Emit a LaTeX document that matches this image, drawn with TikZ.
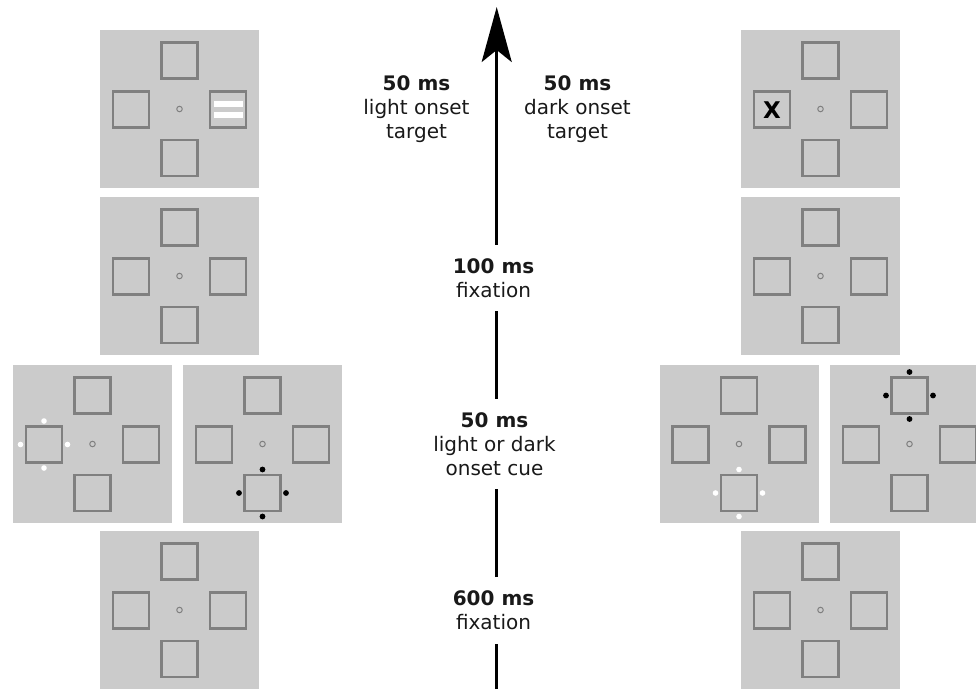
\documentclass[tikz,border=0pt]{standalone}
\usepackage{fontspec}
\setmainfont{DejaVu Sans}
\usetikzlibrary{arrows.meta}
\definecolor{panelgray}{HTML}{CBCBCB}
\definecolor{boxgray}{HTML}{808080}
\tikzset{
  panelbg/.style={fill=panelgray, draw=none, minimum width=159pt, minimum height=158pt, inner sep=0pt},
  box/.style={draw=boxgray, line width=2.3pt, minimum size=36pt, inner sep=0pt},
  fix/.style={circle, draw=boxgray, line width=1pt, minimum size=5.5pt, inner sep=0pt},
  wdot/.style={circle, fill=white, minimum size=5.6pt, inner sep=0pt},
  bdot/.style={circle, fill=black, minimum size=5.8pt, inner sep=0pt},
  bar/.style={fill=white, draw=none, minimum width=29pt, minimum height=5.5pt, inner sep=0pt},
  lab/.style={align=center, font=\fontsize{20}{24}\selectfont, inner xsep=0pt, inner ysep=13.5pt, text=black!90},
  axis/.style={line width=3pt, black},
  pics/display/.style={code={
    \node[panelbg] (-bg) at (0,0) {};
    \node[box] (-t) at (0,-48.5) {};
    \node[box] (-l) at (-48.5,0.5) {};
    \node[box] (-r) at (48.5,0.5) {};
    \node[box] (-b) at (0,49) {};
    \node[fix] (-f) at (0,0) {};
  }}
}
\begin{document}
\begin{tikzpicture}[x=1pt,y=-1pt]
\useasboundingbox (0,0) rectangle (976,689);
\clip (0,0) rectangle (976,689);
\fill[white] (0,0) rectangle (976,689);

% left column
\pic (A1) at (179.5,109) {display};
\pic (A2) at (179.5,276) {display};
\pic (A3) at (92.5,444) {display};
\pic (A4) at (262.5,444) {display};
\pic (A5) at (179.5,610) {display};
% right column
\pic (B1) at (820.5,109) {display};
\pic (B2) at (820.5,276) {display};
\pic (B3) at (739,444) {display};
\pic (B4) at (909.5,444) {display};
\pic (B5) at (820.5,610) {display};

% light onset target: two white bars
\node[bar] (barA) at ([yshift=5.4pt]A1-r.center) {};
\node[bar] (barB) at ([yshift=-5.4pt]A1-r.center) {};
% dark onset target: X
\node[font=\bfseries\fontsize{23}{23}\selectfont, inner sep=0pt] (xt) at ([yshift=-1pt]B1-l.center) {X};

% light cue around left square (A3)
\node[wdot] (a3n) at ([yshift=23.5pt]A3-l.center) {};
\node[wdot] (a3s) at ([yshift=-23.5pt]A3-l.center) {};
\node[wdot] (a3w) at ([xshift=-23.5pt]A3-l.center) {};
\node[wdot] (a3e) at ([xshift=23.5pt]A3-l.center) {};
% dark cue around bottom square (A4)
\node[bdot] (a4n) at ([yshift=23.5pt]A4-b.center) {};
\node[bdot] (a4s) at ([yshift=-23.5pt]A4-b.center) {};
\node[bdot] (a4w) at ([xshift=-23.5pt]A4-b.center) {};
\node[bdot] (a4e) at ([xshift=23.5pt]A4-b.center) {};
% light cue around bottom square (B3)
\node[wdot] (b3n) at ([yshift=23.5pt]B3-b.center) {};
\node[wdot] (b3s) at ([yshift=-23.5pt]B3-b.center) {};
\node[wdot] (b3w) at ([xshift=-23.5pt]B3-b.center) {};
\node[wdot] (b3e) at ([xshift=23.5pt]B3-b.center) {};
% dark cue around top square (B4)
\node[bdot] (b4n) at ([yshift=23.5pt]B4-t.center) {};
\node[bdot] (b4s) at ([yshift=-23.5pt]B4-t.center) {};
\node[bdot] (b4w) at ([xshift=-23.5pt]B4-t.center) {};
\node[bdot] (b4e) at ([xshift=23.5pt]B4-t.center) {};

% time axis labels
\node[lab] (LT) at (416.5,109.5) {\textbf{50 ms}\\light onset\\target};
\node[lab] (RT) at (577.5,109.5) {\textbf{50 ms}\\dark onset\\target};
\node[lab] (L100) at (493.5,278) {\textbf{100 ms}\\fixation};
\node[lab] (Lcue) at (494.5,444) {\textbf{50 ms}\\light or dark\\onset cue};
\node[lab] (L600) at (493.5,610.3) {\textbf{600 ms}\\fixation};

% axis
\coordinate (ax0) at (496.7,689);
\coordinate (tip) at (496.7,7);
\draw[axis] (ax0) -- (ax0 |- L600.south);
\draw[axis] (ax0 |- L600.north) -- (ax0 |- Lcue.south);
\draw[axis] (ax0 |- Lcue.north) -- (ax0 |- L100.south);
\draw[axis, -{Stealth[length=55pt, width=30pt, inset=12pt]}] (ax0 |- L100.north) -- (tip);
\end{tikzpicture}
\end{document}
